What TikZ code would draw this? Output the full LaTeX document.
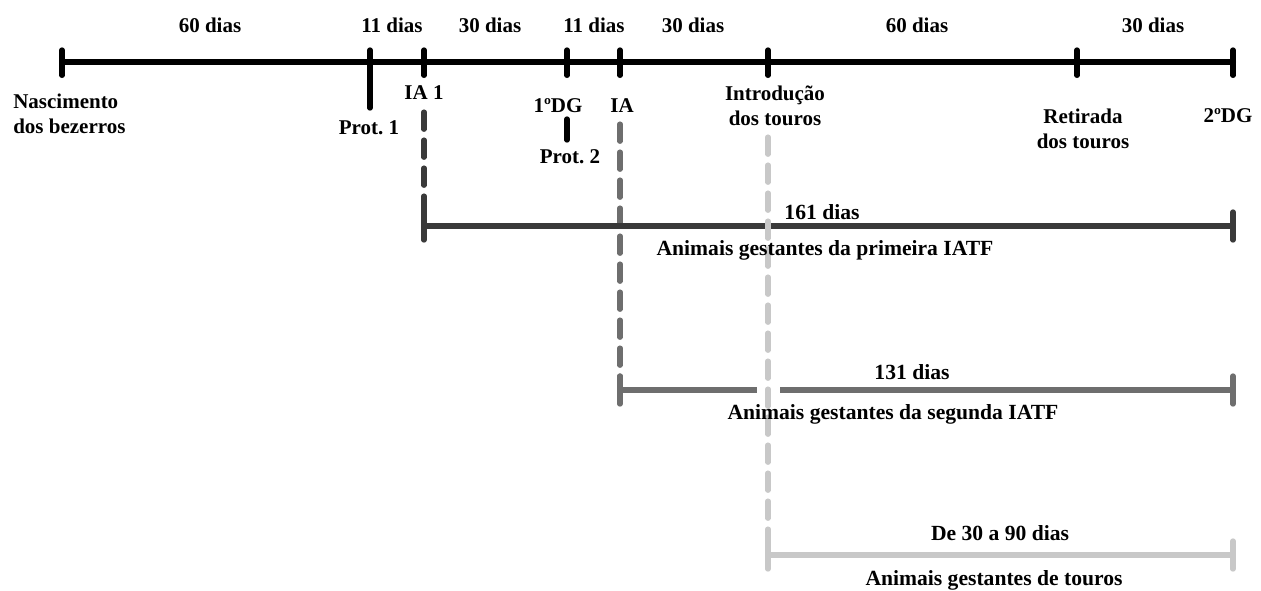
\documentclass[tikz,border=0pt]{standalone}
\usepackage{fontspec}
\setmainfont{Liberation Serif}
\definecolor{darkbar}{HTML}{3A3A3A}
\definecolor{midbar}{HTML}{6E6E6E}
\definecolor{lightbar}{HTML}{C8C8C8}
\begin{document}
\begin{tikzpicture}[x=0.75pt,y=-0.75pt,
    lbl/.style={font=\fontsize{15.75}{18.5}\selectfont\bfseries,align=center,inner sep=0pt},
    barlbl/.style={lbl,font=\fontsize{16.2}{19}\selectfont\bfseries},
    mainline/.style={line width=4.5pt,line cap=round},
    tickline/.style={line width=4pt,line cap=round},
    dashline/.style={line width=3.8pt,line cap=round,dash pattern=on 13pt off 8pt},
    barline/.style={line width=3.8pt}]
    \useasboundingbox (0,0) rectangle (1261,590);
    % timeline points
    \coordinate (born) at (62,62);
    \coordinate (prot1) at (370,62);
    \coordinate (ia1) at (424,62);
    \coordinate (dg1) at (567,62);
    \coordinate (ia2) at (620,62);
    \coordinate (bullin) at (768,62);
    \coordinate (bullout) at (1077,62);
    \coordinate (dg2) at (1233,62);
    % vertical dashed guides
    \draw[dashline,darkbar] (424,112) coordinate (ia1d) -- (424,226) coordinate (ia1b);
    \draw[dashline,midbar] (620,124) coordinate (ia2d) -- (620,390) coordinate (ia2b);
    % bars
    \coordinate (end1) at (1233,226);
    \coordinate (end2) at (1233,390);
    \coordinate (end3) at (1233,555);
    \draw[barline,darkbar] (ia1b) -- (end1);
    \draw[barline,midbar] (ia2b) -- (757,390) coordinate (gapl);
    \draw[barline,midbar] (780,390) coordinate (gapr) -- (end2);
    \draw[dashline,lightbar] (768,137) coordinate (bulld) -- (768,555) coordinate (bullb);
    \draw[barline,lightbar] (bullb) -- (end3);
    \foreach \p/\c in {ia1b/darkbar,end1/darkbar,ia2b/midbar,end2/midbar,bullb/lightbar,end3/lightbar}
      \draw[tickline,\c] ([yshift=10.5pt]\p) -- ([yshift=-10.5pt]\p);
    % main timeline
    \draw[mainline] (born) -- (dg2);
    \foreach \p in {born,ia1,dg1,ia2,bullin,bullout,dg2}
      \draw[tickline] ([yshift=9pt]\p) -- ([yshift=-10pt]\p);
    \draw[tickline] ([yshift=9pt]prot1) -- (370,108) coordinate (prot1e);
    \draw[tickline] (567,119) coordinate (prot2a) -- (567,140) coordinate (prot2b);
    % period labels
    \node[lbl] (p1) at (210,25) {60 dias};
    \node[lbl] (p2) at (392,25) {11 dias};
    \node[lbl] (p3) at (490,25) {30 dias};
    \node[lbl] (p4) at (594,25) {11 dias};
    \node[lbl] (p5) at (693,25) {30 dias};
    \node[lbl] (p6) at (917,25) {60 dias};
    \node[lbl] (p7) at (1153,25) {30 dias};
    % event labels
    \node[lbl,align=left,anchor=west] (lborn) at (13,114) {Nascimento\\dos bezerros};
    \node[lbl] (lprot1) at (369,128) {Prot.\ 1};
    \node[lbl] (lia1) at (424,93) {IA 1};
    \node[lbl] (ldg1) at (558,106) {1ºDG};
    \node[lbl] (lprot2) at (570,157) {Prot.\ 2};
    \node[lbl] (lia2) at (622,106) {IA};
    \node[lbl] (lbullin) at (775,106) {Introdução\\dos touros};
    \node[lbl] (lbullout) at (1083,129) {Retirada\\dos touros};
    \node[lbl] (ldg2) at (1228,116) {2ºDG};
    % bar labels
    \node[barlbl] (d1) at (822,212) {161 dias};
    \node[barlbl] (g1) at (825,250) {Animais gestantes da primeira IATF};
    \node[barlbl] (d2) at (912,372) {131 dias};
    \node[barlbl] (g2) at (893,414) {Animais gestantes da segunda IATF};
    \node[barlbl] (d3) at (1000,533) {De 30 a 90 dias};
    \node[barlbl] (g3) at (994,580) {Animais gestantes de touros};
\end{tikzpicture}
\end{document}
